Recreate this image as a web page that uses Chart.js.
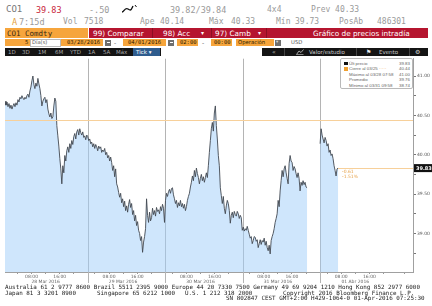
<!DOCTYPE html>
<html>
<head>
<meta charset="utf-8">
<script src="https://cdn.jsdelivr.net/npm/chart.js@4/dist/chart.umd.min.js"></script>
<style>
body{margin:0;width:432px;height:306px;overflow:hidden;background:#fff;position:relative;font-family:"DejaVu Sans",sans-serif}
.t{position:absolute;white-space:nowrap;line-height:1}
.m{font-family:"DejaVu Sans Mono",monospace}
.box{position:absolute}
#wrap{position:absolute;left:0;top:55px;width:432px;height:233px}
#legend{position:absolute;left:340px;top:58px;width:71px;height:29px;border:1px solid #b9b9b9;border-radius:2px;background:#fff;font-family:"Liberation Sans",sans-serif;font-size:4.4px;color:#666}
#legend .r{position:absolute;left:3px;right:2px;height:5px;line-height:5px;white-space:nowrap}
#legend .r span.v{position:absolute;right:0}
#legend .r i{display:inline-block;width:3.5px;height:3.5px;margin-right:1.5px;vertical-align:-0.5px}
.foot{position:absolute;left:0;font-family:"DejaVu Sans Mono",monospace;font-size:5.9px;color:#222;white-space:pre;line-height:1}
</style>
</head>
<body>
<!-- fila 1 -->
<div class="t m" style="left:6px;top:5px;font-size:9px;color:#777">CO1</div>
<div class="t m" style="left:36px;top:5.5px;font-size:8.5px;color:#c8283c">39.83</div>
<div class="t m" style="left:89px;top:5.5px;font-size:8.5px;color:#9a9a9a">-.50</div>
<svg class="box" style="left:121px;top:4px" width="16" height="10"><path d="M1 8 C3 8 4 3 7 5 S10 6 12 2" stroke="#111" stroke-width="1.4" fill="none"/><path d="M14 1 l1.5 2" stroke="#111" stroke-width="1"/></svg>
<div class="t m" style="left:170px;top:5.5px;font-size:8.5px;color:#9a9a9a">39.82/39.84</div>
<div class="t m" style="left:267px;top:5.5px;font-size:8px;color:#9a9a9a">4x4</div>
<div class="t m" style="left:311px;top:5.5px;font-size:8px;color:#9a9a9a">Prev 40.33</div>
<!-- fila 2 -->
<div class="t m" style="left:12px;top:17.5px;font-size:8.5px;color:#e3a241">A</div>
<div class="t m" style="left:19px;top:17.5px;font-size:8.5px;color:#9a9a9a">7:15d</div>
<div class="t m" style="left:63px;top:17.5px;font-size:8px;color:#9a9a9a">Vol</div>
<div class="t m" style="left:84px;top:17.5px;font-size:8px;color:#9a9a9a">7518</div>
<div class="t m" style="left:140px;top:17.5px;font-size:8px;color:#9a9a9a">Ape</div>
<div class="t m" style="left:160px;top:17.5px;font-size:8px;color:#9a9a9a">40.14</div>
<div class="t m" style="left:209px;top:17.5px;font-size:8px;color:#9a9a9a">Máx</div>
<div class="t m" style="left:231px;top:17.5px;font-size:8px;color:#9a9a9a">40.33</div>
<div class="t m" style="left:276px;top:17.5px;font-size:8px;color:#9a9a9a">Mín</div>
<div class="t m" style="left:295px;top:17.5px;font-size:8px;color:#9a9a9a">39.73</div>
<div class="t m" style="left:339px;top:17.5px;font-size:8px;color:#9a9a9a">PosAb</div>
<div class="t m" style="left:377px;top:17.5px;font-size:8px;color:#9a9a9a">486301</div>
<!-- fila 3 -->
<div class="box" style="left:5px;top:28px;width:83px;height:10px;background:#f6a53c"></div>
<div class="t m" style="left:7px;top:29.5px;font-size:7.5px;color:#3a2a12">CO1 Comdty</div>
<div class="box" style="left:89px;top:28px;width:339px;height:10px;background:#b5152f"></div>
<div class="box" style="left:152px;top:28px;width:1px;height:10px;background:#8c0f22"></div>
<div class="box" style="left:211px;top:28px;width:1px;height:10px;background:#8c0f22"></div>
<div class="box" style="left:266px;top:28px;width:1px;height:10px;background:#8c0f22"></div>
<div class="t" style="left:93px;top:29.5px;font-size:7.3px;color:#fff">99) Comparar</div>
<div class="t" style="left:163px;top:29.5px;font-size:7.3px;color:#fff">98) Acc</div>
<div class="t" style="left:201px;top:29.5px;font-size:6px;color:#fff">▾</div>
<div class="t" style="left:215px;top:29.5px;font-size:7.3px;color:#fff">97) Camb</div>
<div class="t" style="left:258px;top:29.5px;font-size:6px;color:#fff">▾</div>
<div class="t" style="left:313px;top:29.5px;font-size:7.3px;color:#fff">Gráfico de precios intradía</div>
<!-- fila 4 -->
<div class="box" style="left:5px;top:39px;width:25px;height:7px;background:#f6a53c"></div>
<div class="t m" style="left:25px;top:40px;font-size:5.5px;color:#2a1a00">5</div>
<div class="box" style="left:30px;top:39px;width:29px;height:6px;border:0.5px solid #bbb;background:#fff"></div>
<div class="t" style="left:32px;top:40px;font-size:5.2px;color:#555">Día(s)</div>
<div class="box" style="left:61px;top:39px;width:42px;height:7px;background:#f6a53c"></div>
<div class="t m" style="left:67px;top:40px;font-size:5.5px;color:#2a1a00">03/28/2016</div>
<div class="box" style="left:105px;top:39.5px;width:6px;height:6px;background:#6f6f6f"></div>
<div class="box" style="left:106.5px;top:42px;width:3px;height:1px;background:#fff"></div>
<div class="t" style="left:114px;top:39.5px;font-size:6px;color:#555">-</div>
<div class="box" style="left:123px;top:39px;width:43px;height:7px;background:#f6a53c"></div>
<div class="t m" style="left:128px;top:40px;font-size:5.5px;color:#2a1a00">04/01/2016</div>
<div class="box" style="left:168px;top:39.5px;width:6px;height:6px;background:#6f6f6f"></div>
<div class="box" style="left:169.5px;top:42px;width:3px;height:1px;background:#fff"></div>
<div class="box" style="left:177px;top:39px;width:21px;height:7px;background:#f6a53c"></div>
<div class="t m" style="left:180px;top:40px;font-size:5.5px;color:#2a1a00">02:00</div>
<div class="t" style="left:202px;top:39.5px;font-size:6px;color:#555">-</div>
<div class="box" style="left:211px;top:39px;width:21px;height:7px;background:#f6a53c"></div>
<div class="t m" style="left:214px;top:40px;font-size:5.5px;color:#2a1a00">00:00</div>
<div class="box" style="left:236px;top:39px;width:38px;height:7px;background:#f6a53c"></div>
<div class="t" style="left:238px;top:40px;font-size:5.3px;color:#2a1a00">Operación</div>
<div class="box" style="left:275px;top:39.5px;width:6px;height:6px;background:#6f6f6f"></div>
<div class="t" style="left:276px;top:40px;font-size:4.5px;color:#ddd">▾</div>
<div class="t" style="left:291px;top:40px;font-size:5.3px;color:#555">USD</div>
<!-- fila 5 -->
<div class="box" style="left:5px;top:48px;width:156px;height:8px;background:#141414"></div>
<div class="t" style="left:8px;top:49.5px;font-size:5.5px;color:#a8a8a8">1D</div>
<div class="t" style="left:22px;top:49.5px;font-size:5.5px;color:#a8a8a8">3D</div>
<div class="t" style="left:38px;top:49.5px;font-size:5.5px;color:#a8a8a8">1M</div>
<div class="t" style="left:55px;top:49.5px;font-size:5.5px;color:#a8a8a8">6M</div>
<div class="t" style="left:70px;top:49.5px;font-size:5.5px;color:#a8a8a8">YTD</div>
<div class="t" style="left:88px;top:49.5px;font-size:5.5px;color:#a8a8a8">1A</div>
<div class="t" style="left:103px;top:49.5px;font-size:5.5px;color:#a8a8a8">5A</div>
<div class="t" style="left:116px;top:49.5px;font-size:5.5px;color:#a8a8a8">Máx</div>
<div class="box" style="left:133px;top:48px;width:27px;height:8px;background:#2e5c8e"></div>
<div class="t" style="left:136px;top:49.5px;font-size:5.5px;color:#fff">Tick ▾</div>
<div class="box" style="left:262px;top:48px;width:166px;height:8px;background:#141414"></div>
<div class="box" style="left:284px;top:48px;width:1px;height:8px;background:#444"></div>
<div class="box" style="left:356px;top:48px;width:1px;height:8px;background:#444"></div>
<div class="box" style="left:409px;top:48px;width:1px;height:8px;background:#444"></div>
<div class="t" style="left:272px;top:49px;font-size:6px;color:#ccc">«</div>
<svg class="box" style="left:296px;top:49px" width="8" height="6"><path d="M0.5 5.5 L3 2 L5 3.5 L7.5 0.5" stroke="#ccc" stroke-width="0.8" fill="none"/><path d="M0.5 5.5 H7.5" stroke="#ccc" stroke-width="0.6"/></svg>
<div class="t" style="left:309px;top:49.5px;font-size:5.5px;color:#ccc">Valor/estudio</div>
<div class="t" style="left:366px;top:49px;font-size:6px;color:#eee">⚑</div>
<div class="t" style="left:379px;top:49.5px;font-size:5.5px;color:#ccc">Evento</div>
<div class="t" style="left:415px;top:49px;font-size:6px;color:#ccc">⚙</div>

<div id="wrap"><canvas id="chart" width="432" height="233"></canvas></div>

<div id="legend">
  <div class="r" style="top:1.5px"><i style="background:#111"></i>Últ precio<span class="v">39.83</span></div>
  <div class="r" style="top:7px"><i style="background:#f0a030"></i>Cierre al 03/25 <span style="color:#f0a030">·····</span><span class="v">40.44</span></div>
  <div class="r" style="top:12.5px"><i style="background:transparent"></i>Máximo al 03/28 07:58<span class="v">41.00</span></div>
  <div class="r" style="top:18px"><i style="background:transparent"></i>Promedio<span class="v">39.76</span></div>
  <div class="r" style="top:23.5px"><i style="background:transparent"></i>Mínimo al 03/31 09:58<span class="v">38.74</span></div>
</div>

<div class="foot" style="top:285px;left:5px">Australia 61 2 9777 8600 Brazil 5511 2395 9000 Europe 44 20 7330 7500 Germany 49 69 9204 1210 Hong Kong 852 2977 6000</div>
<div class="foot" style="top:290.5px;left:5px">Japan 81 3 3201 8900</div>
<div class="foot" style="top:290.5px;left:97px">Singapore 65 6212 1000</div>
<div class="foot" style="top:290.5px;left:185px">U.S. 1 212 318 2000</div>
<div class="foot" style="top:290.5px;left:283px">Copyright 2016 Bloomberg Finance L.P.</div>
<div class="foot" style="top:296px;left:226px">SN 802847 CEST GMT+2:00 H429-1064-0 01-Apr-2016 07:25:30</div>

<script>
// CO1 Comdty, ticks intradía 28 Mar - 01 Abr 2016 (horas de sesión desde las 02:00 del 28 Mar)
const sessionLen = 22;            // 02:00 - 00:00
const dayLabels = ['28 Mar 2016', '29 Mar 2016', '30 Mar 2016', '31 Mar 2016', '01 Abr 2016'];
const hourOffsets = [2, 6, 10, 14, 18];
const hourLabels = ['', '08:00', '', '16:00', ''];
const priceTicks = [38.75, 39.00, 39.25, 39.50, 39.75, 40.00, 40.25, 40.50, 40.75, 41.00];
const priceTickLabels = ['', '39.00', '', '39.50', '', '40.00', '', '40.50', '', '41.00'];
const prevClose = 40.44;
const lastPrice = 39.83;
const sampleStep = 17 / 60;      // horas entre muestras

// contrato mayo (hasta el vencimiento del 31 Mar)
const mayStart = -1.56;
const mayPrices = [
  40.68, 40.63, 40.67, 40.61, 40.65, 40.59, 40.63, 40.58, 40.62, 40.65,
  40.61, 40.66, 40.63, 40.70, 40.67, 40.73, 40.71, 40.75, 40.72, 40.70,
  40.73, 40.71, 40.75, 40.77, 40.73, 40.81, 40.86, 40.94, 41.00, 40.89,
  40.84, 40.91, 40.87, 40.97, 40.90, 40.84, 40.75, 40.62, 40.68, 40.71,
  40.73, 40.66, 40.70, 40.58, 40.52, 40.48, 40.53, 40.46, 40.48, 40.62,
  40.72, 40.68, 40.37, 40.24, 40.11, 39.95, 39.82, 39.63, 39.86, 39.77,
  39.99, 39.92, 40.05, 40.10, 40.03, 40.14, 40.08, 40.18, 40.13, 40.23,
  40.27, 40.20, 40.29, 40.32, 40.25, 40.33, 40.28, 40.25, 40.29, 40.22,
  40.24, 40.19, 40.25, 40.23, 40.18, 40.20, 40.14, 40.16, 40.10, 40.14,
  40.08, 40.13, 40.10, 40.05, 40.11, 40.08, 40.10, 40.03, 40.06, 40.04,
  40.08, 40.00, 40.03, 39.96, 39.99, 39.92, 39.97, 39.90, 39.80, 39.86,
  39.72, 39.82, 39.63, 39.59, 39.52, 39.46, 39.51, 39.39, 39.44, 39.34,
  39.41, 39.29, 39.35, 39.27, 39.37, 39.43, 39.33, 39.38, 39.24, 39.29,
  39.16, 39.23, 39.10, 39.15, 39.04, 39.00, 38.91, 38.96, 38.76, 38.89,
  38.96, 39.06, 39.44, 39.23, 39.14, 39.27, 39.16, 39.20, 39.32, 39.24,
  39.29, 39.22, 39.33, 39.28, 39.30, 39.25, 39.34, 39.29, 39.37, 39.32,
  39.14, 39.42, 39.51, 39.47, 39.53, 39.56, 39.51, 39.57, 39.58, 39.49,
  39.44, 39.38, 39.42, 39.33, 39.39, 39.35, 39.42, 39.34, 39.38, 39.32,
  39.37, 39.29, 39.34, 39.42, 39.47, 39.51, 39.59, 39.65, 39.73, 39.67,
  39.80, 39.72, 39.83, 39.76, 39.71, 39.63, 39.70, 39.75, 39.67, 39.72,
  39.65, 39.71, 39.77, 39.71, 39.86, 40.03, 40.18, 40.33, 40.41, 40.30,
  40.53, 40.62, 40.37, 40.20, 39.99, 39.86, 39.58, 39.48, 39.38, 39.47,
  39.32, 39.25, 39.35, 39.42, 39.38, 39.29, 39.13, 39.23, 39.27, 39.20,
  39.28, 39.24, 39.22, 39.28, 39.25, 39.19, 39.23, 39.20, 39.04, 39.08,
  39.03, 39.06, 39.04, 39.09, 39.04, 38.99, 38.94, 38.96, 38.87, 38.91,
  38.96, 38.95, 38.90, 38.92, 38.82, 38.87, 38.92, 38.86, 38.91, 38.89,
  38.94, 38.85, 38.90, 38.82, 38.78, 38.85, 38.74, 38.91, 38.96, 39.00,
  39.06, 39.14, 39.19, 39.25, 39.42, 39.34, 39.54, 39.67, 39.80, 39.72,
  39.82, 39.86, 39.77, 39.70, 39.63, 39.89, 39.99, 39.92, 39.90, 39.80,
  39.85, 39.82, 39.76, 39.71, 39.77, 39.70, 39.54, 39.65, 39.61, 39.67,
  39.62, 39.65, 39.59, 39.58
];

// contrato junio (01 Abr desde las 02:00)
const juneStart = 88;
const junePrices = [
  40.14, 40.33, 40.25, 40.20, 40.15, 40.22, 40.18, 40.11, 40.14, 40.03,
  40.06, 39.99, 40.01, 39.95, 39.86, 39.80, 39.73, 39.82, 39.83
];

const toPoints = (start, prices) => prices.map((p, i) => ({x: start + i * sampleStep, y: p}));
const mayPoints = toPoints(mayStart, mayPrices);
const junePoints = toPoints(juneStart, junePrices);

const xTicks = [];
const xTickText = [];
for (let d = 0; d <= dayLabels.length; d++) {
	hourOffsets.forEach((off, k) => {
		const v = d * sessionLen + off;
		if (v > 114.4) return;
		xTicks.push(v);
		if (k === 2) xTickText.push(d < dayLabels.length ? ['', dayLabels[d]] : '');
		else xTickText.push(hourLabels[k]);
	});
}

const daySeparators = {
	id: 'daySeparators',
	beforeDatasetsDraw(chart) {
		const {ctx, chartArea, scales: {x}} = chart;
		ctx.save();
		ctx.strokeStyle = '#b4b4b4';
		ctx.lineWidth = 1;
		for (let d = 1; d < dayLabels.length; d++) {
			const px = Math.round(x.getPixelForValue(d * sessionLen)) + 0.5;
			ctx.beginPath();
			ctx.moveTo(px, chartArea.top);
			ctx.lineTo(px, chartArea.bottom + 11);
			ctx.stroke();
		}
		ctx.restore();
	}
};

const priceLines = {
	id: 'priceLines',
	afterDatasetsDraw(chart) {
		const {ctx, chartArea, scales: {x, y}} = chart;
		ctx.save();
		ctx.strokeStyle = '#f7d09a';
		ctx.lineWidth = 1;
		const yc = Math.round(y.getPixelForValue(prevClose)) + 0.5;
		ctx.beginPath();
		ctx.moveTo(chartArea.left, yc);
		ctx.lineTo(chartArea.right, yc);
		ctx.stroke();
		const last = junePoints[junePoints.length - 1];
		const lx = x.getPixelForValue(last.x);
		const yl = Math.round(y.getPixelForValue(lastPrice)) + 0.5;
		ctx.beginPath();
		ctx.moveTo(lx, yl);
		ctx.lineTo(chartArea.right, yl);
		ctx.stroke();
		ctx.fillStyle = '#e6a24a';
		ctx.font = '4.5px "DejaVu Sans"';
		ctx.textBaseline = 'middle';
		ctx.fillText((lastPrice - prevClose).toFixed(2), lx + 4, yl + 3);
		ctx.fillText(((lastPrice - prevClose) / prevClose * 100).toFixed(2) + '%', lx + 4, yl + 8);
		ctx.restore();
	},
	afterDraw(chart) {
		const {ctx, chartArea, scales: {y}} = chart;
		const yl = y.getPixelForValue(lastPrice);
		ctx.save();
		ctx.fillStyle = '#111';
		ctx.fillRect(chartArea.right + 1, yl - 4, 18, 8);
		ctx.fillStyle = '#fff';
		ctx.font = 'bold 5px "DejaVu Sans"';
		ctx.textBaseline = 'middle';
		ctx.fillText(lastPrice.toFixed(2), chartArea.right + 3, yl + 0.5);
		ctx.restore();
	}
};

const series = (points) => ({
	data: points,
	borderColor: '#424851',
	borderWidth: 0.9,
	backgroundColor: 'rgba(160, 205, 250, 0.5)',
	fill: 'start',
	pointRadius: 0,
	tension: 0
});

new Chart(document.getElementById('chart'), {
	type: 'line',
	data: {datasets: [series(mayPoints), series(junePoints)]},
	options: {
		responsive: false,
		animation: false,
		devicePixelRatio: 1,
		layout: {padding: {left: 5, top: 2, right: 0, bottom: 0}},
		plugins: {legend: {display: false}, tooltip: {enabled: false}},
		scales: {
			x: {
				type: 'linear',
				min: mayStart,
				max: 114.4,
				afterBuildTicks: s => { s.ticks = xTicks.map(v => ({value: v})); },
				afterFit: s => { s.height = 16; },
				ticks: {
					autoSkip: false,
					maxRotation: 0,
					padding: 0,
					color: '#666',
					font: {size: 4.5, family: 'DejaVu Sans'},
					callback: (v, i) => xTickText[i]
				},
				grid: {drawOnChartArea: false, tickLength: 2, tickColor: '#999'},
				border: {color: '#a0a0a0'}
			},
			y: {
				position: 'right',
				min: 38.51,
				max: 41.22,
				afterBuildTicks: s => { s.ticks = priceTicks.map(v => ({value: v})); },
				afterFit: s => { s.width = 19; },
				ticks: {
					padding: 1,
					color: '#555',
					font: {size: 4.5, family: 'DejaVu Sans'},
					callback: (v, i) => priceTickLabels[i]
				},
				grid: {drawOnChartArea: false, tickLength: 3, tickColor: '#777'},
				border: {color: '#a0a0a0'}
			}
		}
	},
	plugins: [daySeparators, priceLines]
});
</script>
</body>
</html>
